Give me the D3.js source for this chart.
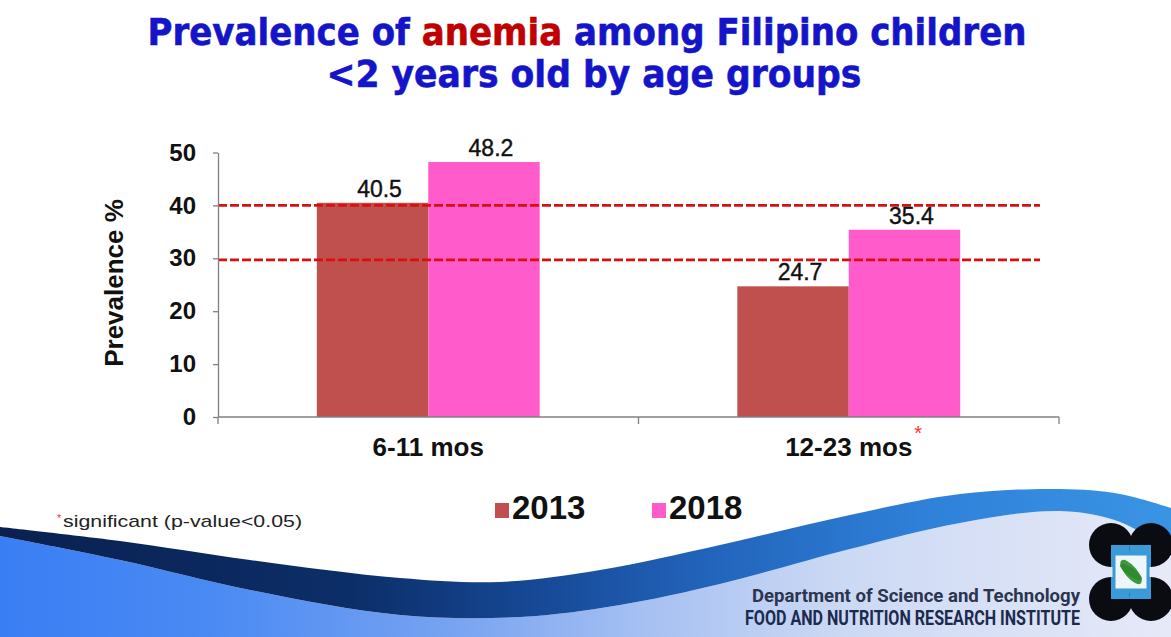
<!DOCTYPE html>
<html>
<head>
<meta charset="utf-8">
<script src="https://cdn.jsdelivr.net/npm/d3@7"></script>
<style>
  html, body { margin: 0; padding: 0; background: #ffffff; }
  svg { display: block; }
</style>
</head>
<body>
<svg id="chart" width="1171" height="637"></svg>
<script>
// ---- data ----
const categories = ["6-11 mos", "12-23 mos"];
const seriesNames = ["2013", "2018"];
const values2013 = [40.5, 24.7];
const values2018 = [48.2, 35.4];
const referenceLines = [40, 29.7];
const yTicks = [0, 10, 20, 30, 40, 50];
const significantCategories = ["12-23 mos"];

const seriesValues = { "2013": values2013, "2018": values2018 };
const colors = { "2013": "#C0504D", "2018": "#FF5BCB" };

const W = 1171, H = 637;
const svg = d3.select("#chart");
const defs = svg.append("defs");

// ---- background decoration (slide swoosh) ----
const lowerGrad = defs.append("linearGradient").attr("id", "lowerGrad")
  .attr("x1", 0).attr("x2", 1).attr("y1", 0).attr("y2", 0);
[[0, "#3a7ef4"], [0.18, "#4a8af3"], [0.38, "#76a2f1"], [0.55, "#a6c0f2"], [0.72, "#ccd9f4"], [1, "#e6e9f8"]]
  .forEach(([o, c]) => lowerGrad.append("stop").attr("offset", o).attr("stop-color", c));
const bandGrad = defs.append("linearGradient").attr("id", "bandGrad")
  .attr("x1", 0).attr("x2", 1).attr("y1", 0).attr("y2", 0);
[[0, "#0a2050"], [0.3, "#0c2e68"], [0.45, "#164794"], [0.6, "#2263ba"], [0.8, "#2f82da"], [1, "#3a94e4"]]
  .forEach(([o, c]) => bandGrad.append("stop").attr("offset", o).attr("stop-color", c));

const upperEdge = [[0,527],[120,541],[250,560],[400,578],[500,582],[600,570],[720,545],[850,515],[960,494],[1060,489],[1120,494],[1171,508]];
const lowerEdge = [[0,536],[120,560],[250,590],[400,615],[520,617],[620,605],[720,584],[850,549],[960,523],[1060,511],[1120,522],[1171,552]];
const curve = d3.line().curve(d3.curveCatmullRom.alpha(0.5));

svg.append("path")
  .attr("d", curve(lowerEdge) + `L${W},${H}L0,${H}Z`)
  .attr("fill", "url(#lowerGrad)");
svg.append("path")
  .attr("d", curve(upperEdge) + "L" + curve(lowerEdge.slice().reverse()).slice(1) + "Z")
  .attr("fill", "url(#bandGrad)");

// ---- title (pieces placed sequentially, then fitted to width) ----
function fittedLine(pieces, cx, baseline, targetWidth, size) {
  const grp = svg.append("g");
  const inner = grp.append("g");
  let cursor = 0;
  pieces.forEach(([txt, col]) => {
    const t = inner.append("text")
      .attr("x", cursor).attr("y", 0)
      .attr("font-family", "'DejaVu Sans', Verdana, Tahoma, sans-serif")
      .attr("font-weight", "bold").attr("font-size", size)
      .attr("fill", col).attr("stroke", col).attr("stroke-width", 0.6)
      .style("white-space", "pre")
      .text(txt);
    cursor += t.node().getComputedTextLength();
  });
  const sx = targetWidth / cursor;
  grp.attr("transform", `translate(${cx - targetWidth / 2},${baseline}) scale(${sx},1)`);
}
const blue = "#1414C8", red = "#C00000";
fittedLine([["Prevalence of ", blue], ["anemia", red], [" among Filipino children", blue]], 587, 45, 879, 38);
fittedLine([["<2 years old by age groups", blue]], 594, 87, 535, 38);

// ---- chart ----
const plot = { left: 218, right: 1059, top: 152.5, bottom: 417 };
const x = d3.scaleBand().domain(categories)
  .range([plot.left, plot.right]).paddingInner(0.47).paddingOuter(0.235);
const xs = d3.scaleBand().domain(seriesNames).range([0, x.bandwidth()]);
const y = d3.scaleLinear().domain([0, 50]).range([plot.bottom, plot.top]);

const font = "'Liberation Sans', Arial, sans-serif";

// bars
const g = svg.append("g");
categories.forEach((cat, i) => {
  seriesNames.forEach(s => {
    const v = seriesValues[s][i];
    g.append("rect")
      .attr("x", x(cat) + xs(s))
      .attr("y", y(v))
      .attr("width", xs.bandwidth())
      .attr("height", y(0) - y(v))
      .attr("fill", colors[s]);
  });
});

// reference dashed lines
svg.append("g").selectAll("line").data(referenceLines).join("line")
  .attr("x1", plot.left).attr("x2", 1040)
  .attr("y1", d => y(d)).attr("y2", d => y(d))
  .attr("stroke", "#D81010").attr("stroke-width", 2.6)
  .attr("stroke-dasharray", "9,3");

// value labels
categories.forEach((cat, i) => {
  seriesNames.forEach(s => {
    const v = seriesValues[s][i];
    svg.append("text")
      .attr("x", x(cat) + xs(s) + xs.bandwidth() / 2 + 7)
      .attr("y", y(v) - 6)
      .attr("text-anchor", "middle")
      .attr("font-family", font).attr("font-size", 23)
      .attr("fill", "#111").attr("stroke", "#111").attr("stroke-width", 0.4)
      .text(v.toFixed(1));
  });
});

// y axis
const yAxis = svg.append("g").attr("transform", `translate(${plot.left},0)`)
  .call(d3.axisLeft(y).tickValues(yTicks).tickSize(5).tickSizeOuter(0).tickPadding(17));
yAxis.select(".domain").attr("stroke", "#808080").attr("stroke-width", 1.3);
yAxis.selectAll(".tick line").attr("stroke", "#808080").attr("stroke-width", 1.3);
yAxis.selectAll(".tick text")
  .attr("font-family", font).attr("font-size", 24).attr("font-weight", "bold")
  .attr("fill", "#111");

// x axis line with boundary ticks
svg.append("line")
  .attr("x1", plot.left).attr("x2", plot.right)
  .attr("y1", y(0)).attr("y2", y(0))
  .attr("stroke", "#808080").attr("stroke-width", 1.5);
const boundaries = [plot.left, ...categories.slice(1).map(c => x(c) - x.step() * x.paddingInner() / 2), plot.right];
svg.append("g").selectAll("line").data(boundaries).join("line")
  .attr("x1", d => d).attr("x2", d => d)
  .attr("y1", y(0)).attr("y2", y(0) + 7)
  .attr("stroke", "#808080").attr("stroke-width", 1.3);

// category labels
categories.forEach(cat => {
  const t = svg.append("text")
    .attr("x", x(cat) + x.bandwidth() / 2)
    .attr("y", 456)
    .attr("text-anchor", "middle")
    .attr("font-family", font).attr("font-size", 26).attr("font-weight", "bold")
    .attr("fill", "#111")
    .text(cat);
  if (significantCategories.includes(cat)) {
    const bb = t.node().getBBox();
    svg.append("text")
      .attr("x", bb.x + bb.width + 2).attr("y", 440)
      .attr("font-family", font).attr("font-size", 20)
      .attr("fill", "#FF3030").text("*");
  }
});

// y axis title
svg.append("text")
  .attr("transform", `translate(123,283) rotate(-90)`)
  .attr("text-anchor", "middle")
  .attr("font-family", font).attr("font-size", 26).attr("font-weight", "bold")
  .attr("fill", "#111")
  .text("Prevalence %");

// legend
const legendX = { "2013": 495, "2018": 652 };
seriesNames.forEach(s => {
  svg.append("rect")
    .attr("x", legendX[s]).attr("y", 503)
    .attr("width", 14).attr("height", 15)
    .attr("fill", colors[s]);
  svg.append("text")
    .attr("x", legendX[s] + 17).attr("y", 519)
    .attr("font-family", font).attr("font-size", 33).attr("font-weight", "bold")
    .attr("fill", "#111")
    .text(s);
});

// footnote
svg.append("text")
  .attr("x", 57).attr("y", 522)
  .attr("font-family", font).attr("font-size", 11)
  .attr("fill", "#FF3030").text("*");
svg.append("text")
  .attr("x", 63).attr("y", 527)
  .attr("font-family", "'Liberation Sans Narrow', 'Liberation Sans', Arial, sans-serif")
  .attr("font-size", 17)
  .attr("textLength", 239).attr("lengthAdjust", "spacingAndGlyphs")
  .attr("fill", "#222")
  .text("significant (p-value<0.05)");

// institute text
svg.append("text")
  .attr("x", 1080).attr("y", 602)
  .attr("text-anchor", "end")
  .attr("font-family", "'Liberation Sans Narrow', 'Roboto', sans-serif")
  .attr("font-weight", "bold").attr("font-size", 18)
  .attr("textLength", 328).attr("lengthAdjust", "spacingAndGlyphs")
  .attr("fill", "#2b3550")
  .text("Department of Science and Technology");
svg.append("text")
  .attr("x", 1080).attr("y", 625)
  .attr("text-anchor", "end")
  .attr("font-family", "'Liberation Sans Narrow', 'Roboto', sans-serif")
  .attr("font-weight", "bold").attr("font-size", 20)
  .attr("textLength", 335).attr("lengthAdjust", "spacingAndGlyphs")
  .attr("fill", "#1c2a4e")
  .text("FOOD AND NUTRITION RESEARCH INSTITUTE");

// logo (simplified)
const logo = svg.append("g").attr("transform", "translate(1131,572)");
const r = 22;
const centers = [[-20, -27, Math.PI / 2, Math.PI], [20, -27, Math.PI, 1.5 * Math.PI], [-20, 27, 0, Math.PI / 2], [20, 27, -Math.PI / 2, 0]];
const arc = d3.arc().innerRadius(0).outerRadius(r);
centers.forEach(([cx, cy, a0, a1]) => {
  logo.append("circle").attr("cx", cx).attr("cy", cy).attr("r", r).attr("fill", "#0b0b12");
  logo.append("path").attr("transform", `translate(${cx},${cy})`)
    .attr("d", arc({ startAngle: a0, endAngle: a1 })).attr("fill", "#3b9ad8");
});
logo.append("rect").attr("x", -17).attr("y", -18).attr("width", 34).attr("height", 36)
  .attr("fill", "#eef6fb").attr("stroke", "#3b9ad8").attr("stroke-width", 3);
logo.append("ellipse").attr("cx", 0).attr("cy", 0).attr("rx", 6).attr("ry", 15)
  .attr("transform", "rotate(-40)").attr("fill", "#3c9a3a");
logo.append("ellipse").attr("cx", 0).attr("cy", 0).attr("rx", 13).attr("ry", 4)
  .attr("transform", "rotate(35)").attr("fill", "#2f8a30");
</script>
</body>
</html>
